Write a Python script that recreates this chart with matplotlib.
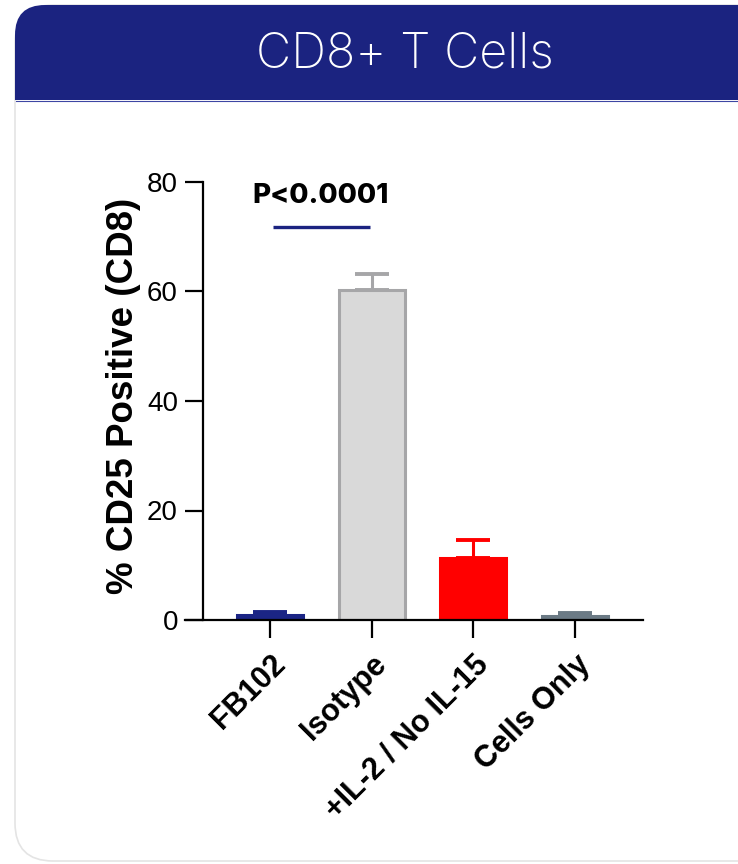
import numpy as np
import matplotlib
matplotlib.use("Agg")
import matplotlib.pyplot as plt
from matplotlib.patches import FancyBboxPatch, Rectangle

# data
groups = ["FB102", "Isotype", "+IL-2 / No IL-15", "Cells Only"]
means = [0.9, 60.3, 11.3, 0.7]
errs = [0.5, 2.9, 3.3, 0.5]
face_colors = ["#1b2585", "#d9d9d9", "#ff0000", "#6b7a85"]
edge_colors = ["#1b2585", "#a6a6a8", "#ff0000", "#6b7a85"]
y_ticks = [0, 20, 40, 60, 80]
p_label = "P<0.0001"

navy = "#1b2380"

fig = plt.figure(figsize=(7.38, 8.64), dpi=100)

# card background in pixel coords
bg = fig.add_axes([0, 0, 1, 1])
bg.set_xlim(0, 738)
bg.set_ylim(864, 0)
bg.axis("off")
card = FancyBboxPatch((15, 5), 785, 856, boxstyle="round,pad=0,rounding_size=38",
                      fc="white", ec="#e4e4e4", lw=1.2)
bg.add_patch(card)
head = FancyBboxPatch((15, 5), 785, 95, boxstyle="round,pad=0,rounding_size=30",
                      fc=navy, ec="none")
bg.add_patch(head)
bg.add_patch(Rectangle((15, 50), 785, 50, fc=navy, ec="none"))
bg.plot([16, 738], [100.5, 100.5], color="#3d46a3", lw=0.8)
bg.text(405, 55, "CD8+ T Cells", color="white", fontsize=35, ha="center", va="center",
        family="Inter", fontweight="light")

# main chart
ax = fig.add_axes([185 / 738, 1 - 620 / 864, (643 - 185) / 738, 82 * 5.475 / 864])
x = np.arange(len(groups))
for i in range(len(groups)):
    ax.bar(x[i], means[i], width=0.65, color=face_colors[i], edgecolor=edge_colors[i],
           linewidth=2.2, zorder=2)
    ax.errorbar(x[i], means[i], yerr=[[0], [errs[i]]], fmt="none", ecolor=edge_colors[i],
                elinewidth=2.2, capsize=12.5, capthick=2.8, zorder=1)

ax.set_xlim(-0.836, 3.67)
ax.set_ylim(0, 82)
ax.spines["left"].set_position(("data", -0.66))
ax.spines["left"].set_bounds(0, 80)
ax.spines["top"].set_visible(False)
ax.spines["right"].set_visible(False)
for s in ["left", "bottom"]:
    ax.spines[s].set_linewidth(1.6)

ax.set_yticks(y_ticks)
ax.set_yticklabels([str(t) for t in y_ticks], family="Liberation Sans", fontsize=20)
ax.set_xticks(x)
ax.set_xticklabels(groups, rotation=45, ha="right", rotation_mode="anchor",
                   family="Liberation Sans", fontweight="bold", fontsize=22)
ax.tick_params(axis="both", direction="out", length=13, width=1.6, pad=5)
ax.tick_params(axis="x", pad=8)

ax.set_ylabel("% CD25 Positive (CD8)", family="Liberation Sans", fontweight="bold",
              fontsize=26.5, labelpad=4)

# significance bar
ax.plot([0.03, 0.98], [71.8, 71.8], color=navy, lw=2.4, solid_capstyle="butt")
ax.text(0.5, 77.4, p_label, ha="center", va="center", family="Inter",
        fontweight="heavy", fontsize=20)

fig.savefig("out.png", dpi=100)
